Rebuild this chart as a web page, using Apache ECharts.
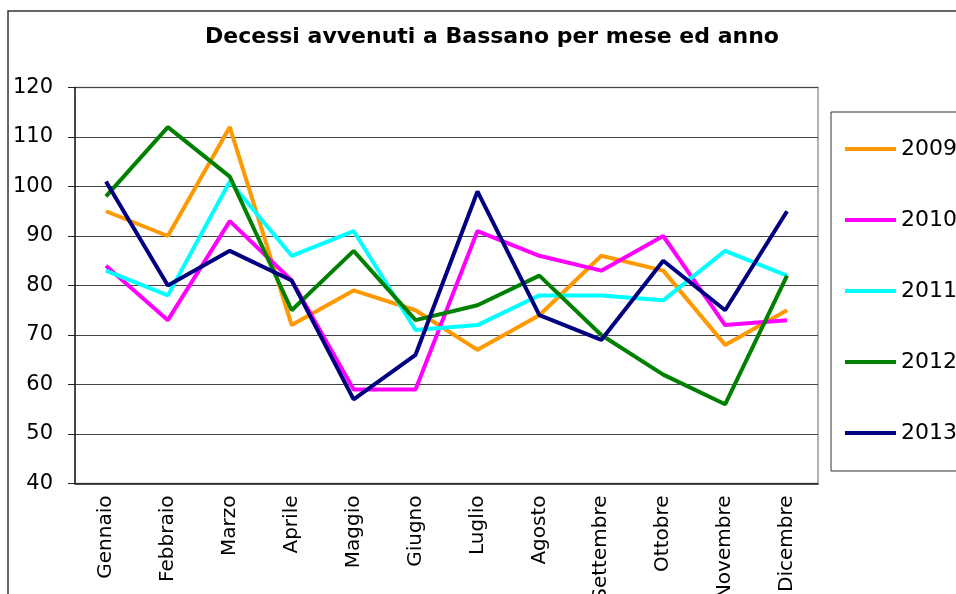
<!DOCTYPE html>
<html>
<head>
<meta charset="utf-8">
<title>Decessi Bassano</title>
<script src="https://cdn.jsdelivr.net/npm/echarts@6/dist/echarts.min.js"></script>
<style>
  html, body { margin: 0; padding: 0; background: #ffffff; }
  #chart { width: 956px; height: 594px; }
</style>
</head>
<body>
<div id="chart"></div>
<script>
// dati
var mesi = ['Gennaio', 'Febbraio', 'Marzo', 'Aprile', 'Maggio', 'Giugno',
            'Luglio', 'Agosto', 'Settembre', 'Ottobre', 'Novembre', 'Dicembre'];
var anni = ['2009', '2010', '2011', '2012', '2013'];
var colori = ['#FF9900', '#FF00FF', '#00FFFF', '#008000', '#000080'];

var d2009 = [95, 90, 112, 72, 79, 75, 67, 74, 86, 83, 68, 75];
var d2010 = [84, 73, 93, 81, 59, 59, 91, 86, 83, 90, 72, 73];
var d2011 = [83, 78, 101, 86, 91, 71, 72, 78, 78, 77, 87, 82];
var d2012 = [98, 112, 102, 75, 87, 73, 76, 82, 70, 62, 56, 82];
var d2013 = [101, 80, 87, 81, 57, 66, 99, 74, 69, 85, 75, 95];
var valori = [d2009, d2010, d2011, d2012, d2013];

var font = 'DejaVu Sans';
var chart = echarts.init(document.getElementById('chart'));

var series = anni.map(function (a, i) {
  return {
    name: a,
    type: 'line',
    data: valori[i],
    symbol: 'none',
    color: colori[i],
    lineStyle: { width: 4, color: colori[i] }
  };
});

chart.setOption({
  animation: false,
  backgroundColor: '#ffffff',
  title: {
    text: 'Decessi avvenuti a Bassano per mese ed anno',
    left: 487,
    textAlign: 'center',
    top: 21,
    textStyle: { fontFamily: font, fontSize: 22, fontWeight: 'bold', color: '#000' }
  },
  // cornice esterna del grafico
  graphic: [{
    type: 'rect',
    shape: { x: 8, y: 11, width: 1000, height: 700 },
    style: { fill: 'none', stroke: '#333', lineWidth: 1.5 },
    silent: true
  }],
  legend: {
    orient: 'vertical',
    left: 831,
    top: 112,
    padding: [26, 40, 27, 14],
    icon: 'rect',
    itemWidth: 51,
    itemHeight: 4,
    itemGap: 49,
    borderColor: '#333',
    borderWidth: 1,
    textStyle: { fontFamily: font, fontSize: 22, lineHeight: 22, color: '#000' },
    data: anni
  },
  grid: {
    left: 75,
    top: 87.5,
    right: 138,
    bottom: 110.5,
    outerBoundsMode: 'none',
    containLabel: false,
    show: true,
    borderColor: '#999',
    borderWidth: 1.5
  },
  xAxis: {
    type: 'category',
    data: mesi,
    boundaryGap: true,
    axisLine: { lineStyle: { color: '#222', width: 1.5 } },
    axisTick: { length: 6, lineStyle: { color: '#222' } },
    axisLabel: {
      rotate: 90,
      margin: 12,
      interval: 0,
      fontFamily: font,
      fontSize: 20,
      color: '#000'
    }
  },
  yAxis: {
    type: 'value',
    min: 40,
    max: 120,
    interval: 10,
    axisLine: { show: true, lineStyle: { color: '#222', width: 1.5 } },
    axisTick: { show: true, length: 7, lineStyle: { color: '#222' } },
    splitLine: { lineStyle: { color: '#444', width: 1.2 } },
    axisLabel: {
      margin: 22,
      fontFamily: font,
      fontSize: 21,
      color: '#000'
    }
  },
  series: series
});
</script>
</body>
</html>
